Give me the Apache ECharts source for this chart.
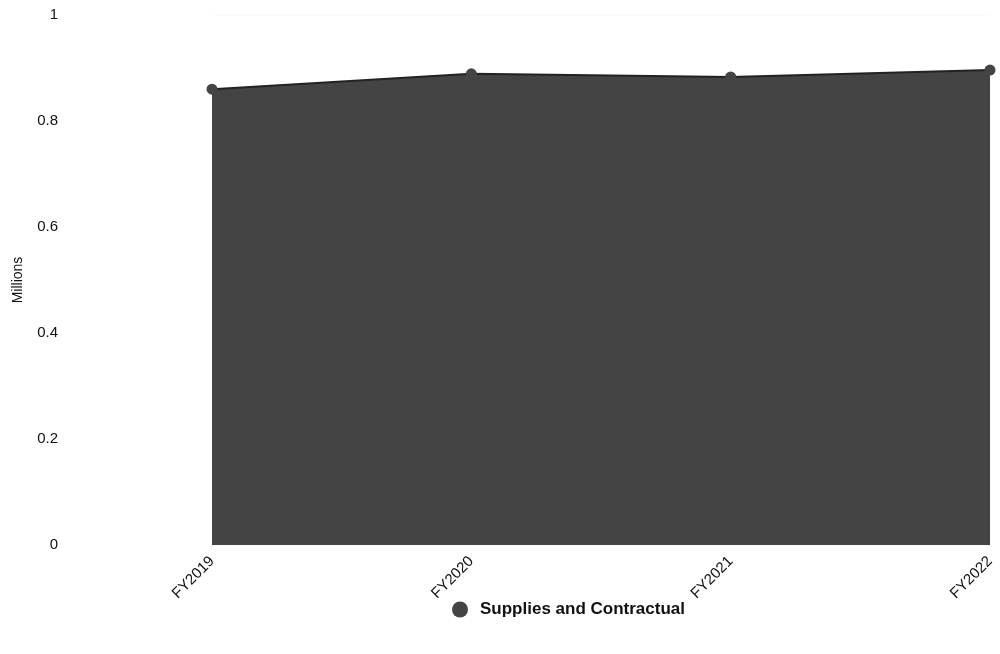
<!DOCTYPE html>
<html>
<head>
<meta charset="utf-8">
<script src="https://cdn.jsdelivr.net/npm/echarts@6/dist/echarts.min.js"></script>
<style>html,body{margin:0;padding:0;background:#fff}#c{width:1000px;height:654px}</style>
</head>
<body>
<div id="c"></div>
<script>
var categories = ['FY2019', 'FY2020', 'FY2021', 'FY2022'];
var seriesName = 'Supplies and Contractual';
var values = [0.860, 0.889, 0.883, 0.896];
var yTicks = [0, 0.2, 0.4, 0.6, 0.8, 1];

var chart = echarts.init(document.getElementById('c'));
chart.setOption({
  animation: false,
  textStyle: {fontFamily: 'Liberation Sans, Arial, sans-serif'},
  grid: {left: 212, right: 10, top: 15, bottom: 109, outerBoundsMode: 'none', containLabel: false},
  legend: {
    top: 596, left: 447, icon: 'circle', itemWidth: 16, itemHeight: 16, itemGap: 10,
    textStyle: {fontSize: 17, fontWeight: 'bold', color: '#111', padding: [0, 0, 0, 7]},
    data: [seriesName]
  },
  xAxis: {
    type: 'category', data: categories, boundaryGap: false,
    axisLine: {show: false}, axisTick: {show: false},
    axisLabel: {rotate: 45, fontSize: 15, color: '#111', margin: 14}
  },
  yAxis: {
    type: 'value', min: yTicks[0], max: yTicks[yTicks.length - 1], interval: 0.2,
    name: 'Millions', nameLocation: 'middle', nameGap: 187, nameRotate: 90,
    nameTextStyle: {fontSize: 14, color: '#111'},
    axisLine: {show: false}, axisTick: {show: false},
    axisLabel: {fontSize: 15, color: '#111', margin: 154, align: 'right'},
    splitLine: {lineStyle: {color: '#f6f6f6', type: 'dotted'}}
  },
  series: [{
    name: seriesName, type: 'line', data: values,
    symbol: 'circle', symbolSize: 11,
    itemStyle: {color: '#444'},
    lineStyle: {color: '#222', width: 2},
    areaStyle: {color: '#444', opacity: 1}
  }]
});
</script>
</body>
</html>
